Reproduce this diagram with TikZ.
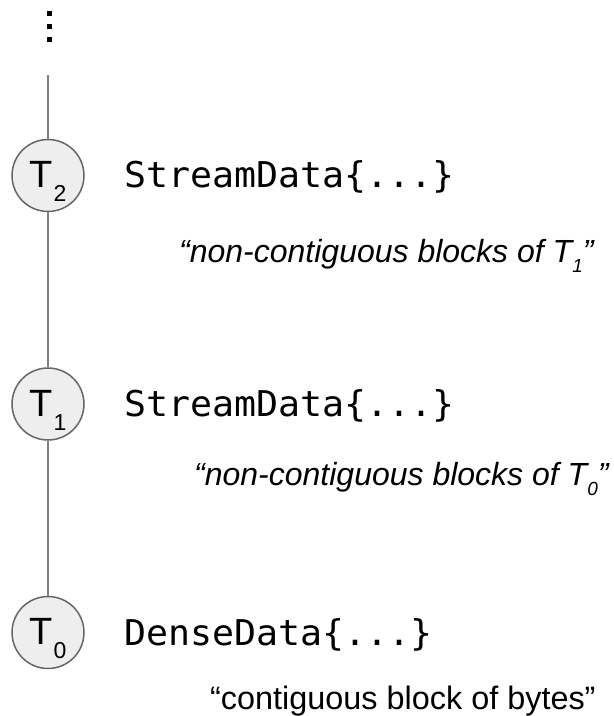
\documentclass[tikz,border=0pt]{standalone}
\usepackage{fontspec}
\setmainfont{Liberation Sans}
\newfontfamily\codefont[FakeStretch=1.03]{DejaVu Sans Mono}
\definecolor{ringgray}{HTML}{666666}
\definecolor{ringfill}{HTML}{EEEEEE}
\definecolor{spinegray}{HTML}{808080}
% subscript used inside the circles
\newcommand{\tsub}[1]{\kern1pt\raisebox{-14pt}{\fontsize{23}{23}\selectfont #1}}
% subscript used in the italic captions
\newcommand{\csub}[1]{\raisebox{-10pt}{\fontsize{19}{19}\selectfont #1}}
\tikzset{
  tnode/.style={circle, draw=ringgray, fill=ringfill, line width=1.5pt,
    minimum size=72pt, inner sep=0pt},
  tlabel/.style={inner sep=0pt, font=\fontsize{38}{38}\selectfont},
  codetext/.style={inner sep=0pt, anchor=base west, font=\codefont\fontsize{35.5}{35.5}\selectfont},
  captext/.style={inner sep=0pt, anchor=base west, font=\fontsize{32}{32}\selectfont},
  spine/.style={draw=spinegray, line width=1.5pt},
  vdot/.style={rectangle, fill=black, minimum size=5pt, inner sep=0pt}
}
\begin{document}
\begin{tikzpicture}[x=1pt,y=-1pt]
  \useasboundingbox (0,0) rectangle (614,716);

  % vertical ellipsis above the chain
  \node[vdot] (d1) at (49,13.7) {};
  \node[vdot] (d2) at (49,26.7) {};
  \node[vdot] (d3) at (49,39.7) {};

  % the chain of types
  \coordinate (top) at (48,75);
  \node[tnode] (t2) at (48,175.5) {};
  \node[tnode] (t1) at (48,404) {};
  \node[tnode] (t0) at (48,632.5) {};

  \node[tlabel, anchor=base] (t2l) at ([yshift=-12pt]t2.center) {T\tsub{2}};
  \node[tlabel, anchor=base] (t1l) at ([yshift=-12pt]t1.center) {T\tsub{1}};
  \node[tlabel, anchor=base] (t0l) at ([yshift=-12pt]t0.center) {T\tsub{0}};

  \draw[spine] (top) -- (t2.north);
  \draw[spine] (t2.south) -- (t1.north);
  \draw[spine] (t1.south) -- (t0.north);

  % data structures
  \node[codetext] (s2) at (124,187) {StreamData\{...\}};
  \node[codetext] (s1) at (124,416) {StreamData\{...\}};
  \node[codetext] (s0) at (124,645) {DenseData\{...\}};

  % descriptions
  \node[captext] (c2) at (179,262) {\itshape “non-contiguous blocks of T\csub{1}”};
  \node[captext] (c1) at (194,485) {\itshape “non-contiguous blocks of T\csub{0}”};
  \node[captext, font=\fontsize{32.4}{32.4}\selectfont] (c0) at (210,709) {“contiguous block of bytes”};
\end{tikzpicture}
\end{document}
